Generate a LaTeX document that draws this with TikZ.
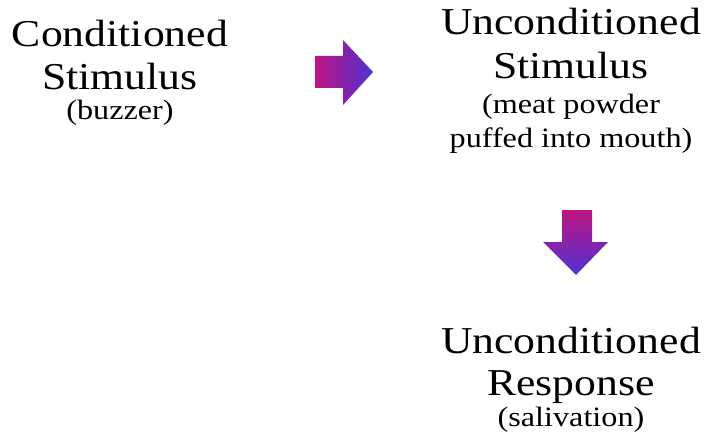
\documentclass[tikz,border=0pt]{standalone}
\usepackage{fontspec}
\setmainfont{Liberation Serif}[FakeStretch=1.15]
\definecolor{arrowMagenta}{RGB}{190,20,130}
\definecolor{arrowBlue}{RGB}{80,50,210}

\begin{document}
\begin{tikzpicture}
[x=1pt,y=-1pt,
  bigText/.style={inner sep=0pt,anchor=base,font=\fontsize{38}{38}\selectfont},%
  smallText/.style={inner sep=0pt,anchor=base,font=\fontsize{28}{28}\selectfont},%
  rightArrow/.style={draw=none,left color=arrowMagenta,right color=arrowBlue},%
  downArrow/.style={draw=none,top color=arrowMagenta,bottom color=arrowBlue}]
\useasboundingbox (0,0) rectangle (704,433);
%% text lines
\foreach \nodename/\x/\y/\textstyle/\words in {
  cs1/120/47/bigText/Conditioned, cs2/120/90/bigText/Stimulus,
  cs3/120/120/smallText/(buzzer),
  us1/571/35/bigText/Unconditioned, us2/571/79/bigText/Stimulus,
  us3/571/114/smallText/(meat powder, us4/571/147/smallText/puffed into mouth),
  ur1/571/353/bigText/Unconditioned, ur2/571/395/bigText/Response,
  ur3/571/426/smallText/(salivation)}
{
  \node[\textstyle] (\nodename) at (\x,\y) {\words};
}
%% arrows
\shade[rightArrow] (315,56) -- (343,56) -- (343,40) -- (373,72) -- (343,105)
  -- (343,88) -- (315,88) -- cycle;
\shade[downArrow] (562,210) -- (592,210) -- (592,242) -- (608,242)
  -- (576,275) -- (543,242) -- (562,242) -- cycle;
\end{tikzpicture}
\end{document}
